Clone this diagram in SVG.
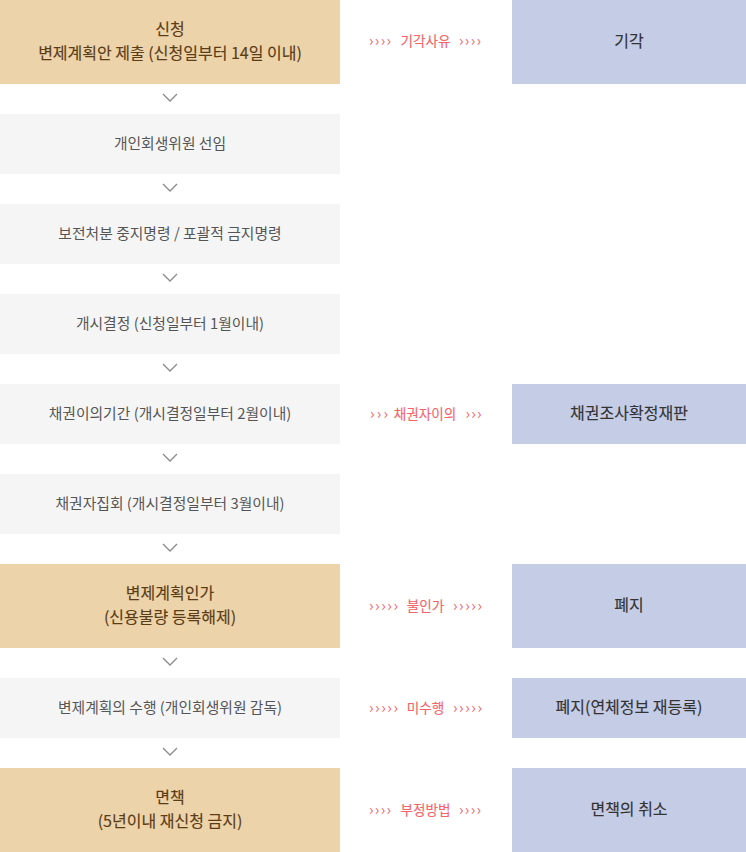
<svg xmlns="http://www.w3.org/2000/svg" width="746" height="852" viewBox="0 0 746 852">
<style>
text{font-family:"Noto Sans CJK KR","Noto Sans",sans-serif;text-anchor:middle}
.tan{fill:#EDD3A9}
.gray{fill:#F5F5F5}
.lav{fill:#C5CCE6}
.tt{font-size:16px;fill:#5A3C17;stroke:#5A3C17;stroke-width:0.15}
.gt{font-size:14.8px;fill:#555555}
.rt{font-size:16px;fill:#333333;stroke:#333333;stroke-width:0.15}
.mt{font-size:13.6px;fill:#F2646A;stroke:#F2646A;stroke-width:0.1}
.ch{font-size:15px;fill:#F2646A}
.down{fill:none;stroke:#8A8A8A;stroke-width:1.3}
</style>
<rect width="746" height="852" fill="#FFFFFF"/>
<g id="n1"><rect class="tan" x="0" y="0" width="340" height="84"/><text class="tt" x="170" y="35">신청</text><text class="tt" x="170" y="59">변제계획안 제출 (신청일부터 14일 이내)</text></g>
<g id="n2"><rect class="gray" x="0" y="114" width="340" height="60"/><text class="gt" x="170" y="149">개인회생위원 선임</text></g>
<g id="n3"><rect class="gray" x="0" y="204" width="340" height="60"/><text class="gt" x="170" y="239">보전처분 중지명령 / 포괄적 금지명령</text></g>
<g id="n4"><rect class="gray" x="0" y="294" width="340" height="60"/><text class="gt" x="170" y="329">개시결정 (신청일부터 1월이내)</text></g>
<g id="n5"><rect class="gray" x="0" y="384" width="340" height="60"/><text class="gt" x="170" y="419">채권이의기간 (개시결정일부터 2월이내)</text></g>
<g id="n6"><rect class="gray" x="0" y="474" width="340" height="60"/><text class="gt" x="170" y="509">채권자집회 (개시결정일부터 3월이내)</text></g>
<g id="n7"><rect class="tan" x="0" y="564" width="340" height="84"/><text class="tt" x="170" y="599">변제계획인가</text><text class="tt" x="170" y="623">(신용불량 등록해제)</text></g>
<g id="n8"><rect class="gray" x="0" y="678" width="340" height="60"/><text class="gt" x="170" y="713">변제계획의 수행 (개인회생위원 감독)</text></g>
<g id="n9"><rect class="tan" x="0" y="768" width="340" height="84"/><text class="tt" x="170" y="803">면책</text><text class="tt" x="170" y="827">(5년이내 재신청 금지)</text></g>
<g id="r1"><rect class="lav" x="512" y="0" width="234" height="84"/><text class="rt" x="629" y="47">기각</text></g>
<g id="r5"><rect class="lav" x="512" y="384" width="234" height="60"/><text class="rt" x="629" y="419">채권조사확정재판</text></g>
<g id="r7"><rect class="lav" x="512" y="564" width="234" height="84"/><text class="rt" x="629" y="611">폐지</text></g>
<g id="r8"><rect class="lav" x="512" y="678" width="234" height="60"/><text class="rt" x="629" y="713">폐지(연체정보 재등록)</text></g>
<g id="r9"><rect class="lav" x="512" y="768" width="234" height="84"/><text class="rt" x="629" y="815">면책의 취소</text></g>
<g id="connectors">
<polyline class="down" points="163,94 170,101 177,94"/>
<polyline class="down" points="163,184 170,191 177,184"/>
<polyline class="down" points="163,274 170,281 177,274"/>
<polyline class="down" points="163,364 170,371 177,364"/>
<polyline class="down" points="163,454 170,461 177,454"/>
<polyline class="down" points="163,544 170,551 177,544"/>
<polyline class="down" points="163,658 170,665 177,658"/>
<polyline class="down" points="163,748 170,755 177,748"/>
<g id="e1"><text class="ch" x="380" y="46" textLength="22" lengthAdjust="spacing">››››</text><text class="mt" x="425.5" y="46">기각사유</text><text class="ch" x="470" y="46" textLength="22" lengthAdjust="spacing">››››</text></g>
<g id="e5"><text class="ch" x="379" y="419" textLength="18" lengthAdjust="spacing">›››</text><text class="mt" x="425" y="419">채권자이의</text><text class="ch" x="473.5" y="419" textLength="16" lengthAdjust="spacing">›››</text></g>
<g id="e7"><text class="ch" x="383.5" y="611" textLength="29" lengthAdjust="spacing">›››››</text><text class="mt" x="425.5" y="611">불인가</text><text class="ch" x="467.5" y="611" textLength="29" lengthAdjust="spacing">›››››</text></g>
<g id="e8"><text class="ch" x="383.5" y="713" textLength="29" lengthAdjust="spacing">›››››</text><text class="mt" x="425.5" y="713">미수행</text><text class="ch" x="467.5" y="713" textLength="29" lengthAdjust="spacing">›››››</text></g>
<g id="e9"><text class="ch" x="380" y="815" textLength="22" lengthAdjust="spacing">››››</text><text class="mt" x="425.5" y="815">부정방법</text><text class="ch" x="470" y="815" textLength="22" lengthAdjust="spacing">››››</text></g>
</g>
</svg>
